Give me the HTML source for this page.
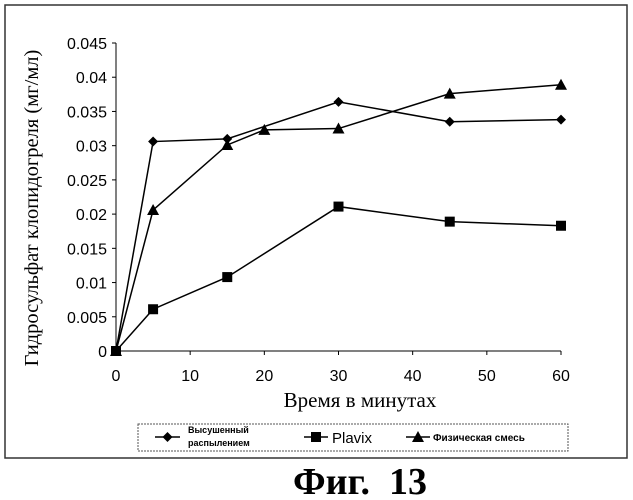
<!DOCTYPE html>
<html><head><meta charset="utf-8"><style>
body{margin:0;background:#fff;width:633px;height:500px;overflow:hidden}
svg{display:block}
</style></head><body>
<svg width="633" height="500" id="c">
<rect x="5" y="5" width="622" height="453" fill="none" stroke="#333" stroke-width="1.5"/>
<text x="38" y="208" transform="rotate(-90 38 208)" text-anchor="middle" font-family="Liberation Serif, serif" font-size="20.5">Гидросульфат клопидогреля (мг/мл)</text>
<text x="360" y="407" text-anchor="middle" font-family="Liberation Serif, serif" font-size="21">Время в минутах</text>
<g id="axes"></g><g id="series"></g>
<rect x="138" y="424" width="430" height="27" fill="none" stroke="#555" stroke-dasharray="2,1"/>
<g>
<line x1="155" y1="437" x2="180" y2="437" stroke="#000" stroke-width="1.5"/>
<path d="M167.5 432 L172.5 437 L167.5 442 L162.5 437Z" fill="#000"/>
<text x="188" y="433" font-family="Liberation Sans, sans-serif" font-size="9" font-weight="bold">Высушенный</text>
<text x="188" y="446" font-family="Liberation Sans, sans-serif" font-size="9" font-weight="bold">распылением</text></g>
<g>
<line x1="304" y1="437" x2="328" y2="437" stroke="#000" stroke-width="1.5"/>
<rect x="311" y="432" width="10" height="10" fill="#000"/>
<text x="332" y="443" font-family="Liberation Sans, sans-serif" font-size="15">Plavix</text></g>
<g>
<line x1="406" y1="437" x2="430" y2="437" stroke="#000" stroke-width="1.5"/>
<path d="M418 431 L424 442 L412 442Z" fill="#000"/>
<text x="433" y="441" font-family="Liberation Sans, sans-serif" font-size="10" font-weight="bold">Физическая смесь</text></g>
<text x="360" y="494" text-anchor="middle" font-family="Liberation Serif, serif" font-size="38" font-weight="bold" style="white-space:pre">Фиг.  13</text>
</svg>
<script>
const xTicks=[0,10,20,30,40,50,60];
const yTicks=[0,0.005,0.01,0.015,0.02,0.025,0.03,0.035,0.04,0.045];
const yTickLabels=["0","0.005","0.01","0.015","0.02","0.025","0.03","0.035","0.04","0.045"];
const sprayX=[0,5,15,30,45,60];
const sprayY=[0,0.0306,0.031,0.0364,0.0335,0.0338];
const plavixX=[0,5,15,30,45,60];
const plavixY=[0,0.0061,0.0108,0.0211,0.0189,0.0183];
const mixX=[0,5,15,20,30,45,60];
const mixY=[0,0.0206,0.0301,0.0323,0.0325,0.0376,0.0389];
const NS="http://www.w3.org/2000/svg";
const sx=v=>116+v/60*445, sy=v=>351-v/0.045*308;
function mk(t,a,p){const e=document.createElementNS(NS,t);for(const k in a)e.setAttribute(k,a[k]);p.appendChild(e);return e;}
const ax=document.getElementById('axes');
let l=mk('line',{x1:116,y1:43,x2:116,y2:351,stroke:'#000'},ax);


l=mk('line',{x1:116,y1:351,x2:561,y2:351,stroke:'#000'},ax);


yTicks.forEach((v,i)=>{mk('line',{x1:112,y1:sy(v),x2:116,y2:sy(v),stroke:'#000'},ax);
const t=mk('text',{x:107,y:sy(v)+6,'text-anchor':'end','font-family':'Liberation Sans, sans-serif','font-size':16},ax);t.textContent=yTickLabels[i];

});
xTicks.forEach(v=>{mk('line',{x1:sx(v),y1:351,x2:sx(v),y2:355,stroke:'#000'},ax);
const t=mk('text',{x:sx(v),y:381,'text-anchor':'middle','font-family':'Liberation Sans, sans-serif','font-size':16},ax);t.textContent=v;

});
const sg=document.getElementById('series');
function series(X,Y,name,shape){const g=mk('g',{},sg);


mk('polyline',{points:X.map((x,i)=>sx(x)+','+sy(Y[i])).join(' '),fill:'none',stroke:'#000','stroke-width':1.5},g);
X.forEach((x,i)=>{const cx=sx(x),cy=sy(Y[i]);let m;
if(shape==='d')m=mk('path',{d:`M${cx} ${cy-5}L${cx+5} ${cy}L${cx} ${cy+5}L${cx-5} ${cy}Z`,fill:'#000'},g);
else if(shape==='s')m=mk('rect',{x:cx-5,y:cy-5,width:10,height:10,fill:'#000'},g);
else m=mk('path',{d:`M${cx} ${cy-6}L${cx+6} ${cy+5}L${cx-6} ${cy+5}Z`,fill:'#000'},g);

});}
series(sprayX,sprayY,'series-spray-dried','d');
series(plavixX,plavixY,'series-plavix','s');
series(mixX,mixY,'series-physical-mix','t');
</script>
</body></html>
